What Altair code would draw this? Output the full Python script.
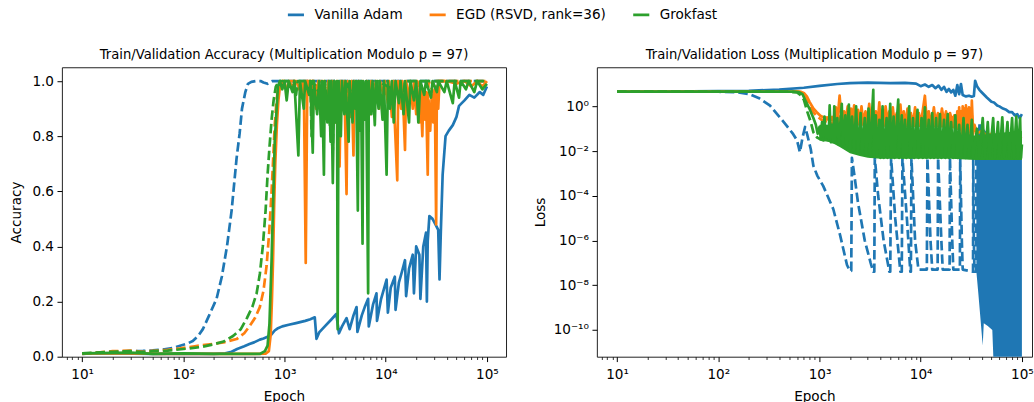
import altair as alt
import pandas as pd

# ---------------- data ----------------
METHODS = ["Vanilla Adam", "EGD (RSVD, rank=36)", "Grokfast"]
COLORS = ["#1f77b4", "#ff7f0e", "#2ca02c"]

# Accuracy panel: (epoch, accuracy)
acc_adam_train = [(10,0.010),(15,0.014),(20,0.017),(30,0.020),(40,0.021),(50,0.023),(65,0.027),(80,0.032),(93,0.040),(110,0.048),(124,0.057),(140,0.075),(156,0.100),(180,0.150),(213,0.210),(240,0.290),(270,0.400),(300,0.530),(336,0.720),(360,0.810),(380,0.900),(410,0.960),(435,0.990),(470,0.997),(520,1.0),(580,1.0),(620,0.995),(680,0.990),(760,1.0),(1000,1.0),(2000,1.0),(5000,1.0),(10000,1.0),(30000,1.0),(100000,1.0)]
acc_adam_val = [(10,0.012),(20,0.012),(50,0.010),(100,0.010),(200,0.010),(260,0.012),(300,0.018),(340,0.028),(400,0.038),(450,0.046),(500,0.052),(570,0.062),(620,0.066),(680,0.072),(740,0.080),(800,0.095),(850,0.102),(950,0.110),(1100,0.116),(1300,0.122),(1600,0.130),(1800,0.136),(1990,0.143),(2070,0.065),(2200,0.088),(2500,0.110),(2900,0.135),(3250,0.155),(3450,0.085),(3700,0.110),(4100,0.140),(4400,0.100),(4800,0.150),(5150,0.180),(5250,0.090),(5800,0.150),(6200,0.180),(6700,0.210),(6800,0.110),(7500,0.190),(8100,0.230),(8200,0.130),(9000,0.210),(10200,0.280),(10500,0.160),(11200,0.250),(12300,0.290),(12500,0.170),(13500,0.270),(14500,0.310),(15500,0.350),(15900,0.220),(17000,0.320),(18500,0.370),(19000,0.230),(20000,0.400),(21500,0.370),(22000,0.210),(23500,0.400),(25000,0.450),(25500,0.200),(26000,0.420),(27000,0.510),(29000,0.500),(31000,0.480),(33000,0.460),(34000,0.280),(35000,0.450),(36500,0.660),(39000,0.800),(42000,0.820),(46000,0.840),(50000,0.870),(53000,0.910),(60000,0.930),(67000,0.950),(75000,0.940),(85000,0.960),(92000,0.950),(100000,0.980)]
acc_egd_train = [(10,0.010),(15,0.016),(20,0.020),(30,0.022),(40,0.018),(50,0.021),(70,0.025),(93,0.030),(130,0.038),(183,0.045),(250,0.052),(336,0.064),(400,0.085),(450,0.110),(510,0.140),(570,0.180),(620,0.240),(665,0.330),(705,0.450),(745,0.600),(775,0.730),(800,0.840),(830,0.920),(860,0.970),(900,0.990),(950,1.0),(1300,1.0),(1400,0.97),(1500,1.0),(2000,1.0),(2200,0.92),(2300,1.0),(2800,0.95),(2900,1.0),(3600,0.88),(3700,1.0),(4500,0.93),(4600,1.0),(7000,0.96),(7200,1.0),(12000,0.93),(12400,1.0),(20000,0.95),(20500,1.0),(26000,0.90),(26500,1.0),(31000,0.94),(31500,1.0),(100000,1.0)]
acc_egd_val = [(10,0.012),(30,0.012),(60,0.010),(100,0.010),(300,0.010),(500,0.010),(650,0.011),(700,0.020),(730,0.080),(750,0.200),(770,0.350),(790,0.550),(810,0.700),(840,0.840),(870,0.930),(900,0.980),(950,1.0),(1050,0.97),(1100,1.0),(1200,0.98),(1300,1.0),(1450,0.96),(1550,1.0),(1620,0.34),(1680,1.0),(1800,0.95),(1900,1.0),(2050,0.90),(2150,1.0),(2300,0.92),(2400,1.0),(2600,0.88),(2700,1.0),(2900,0.93),(3000,1.0),(3200,0.85),(3300,1.0),(3500,0.69),(3600,1.0),(3800,0.90),(3900,1.0),(4100,0.59),(4200,1.0),(4500,0.87),(4600,1.0),(4800,0.73),(4900,1.0),(5300,0.90),(5400,1.0),(5800,0.85),(5900,1.0),(6300,0.93),(6500,1.0),(7000,0.88),(7200,1.0),(7800,0.94),(8000,1.0),(8600,0.90),(8800,1.0),(9500,0.95),(9800,1.0),(10500,0.92),(10800,1.0),(11500,0.87),(11800,1.0),(13000,0.64),(13300,1.0),(14200,0.90),(14600,1.0),(15500,0.75),(15900,1.0),(17000,0.93),(17500,1.0),(18500,0.90),(19000,1.0),(20000,0.88),(20500,0.98),(21500,0.85),(22000,0.97),(23000,0.80),(23500,0.95),(24500,0.86),(25000,0.96),(26000,0.66),(26500,0.93),(27500,0.82),(28500,0.95),(29500,0.85),(30500,0.97),(31500,0.48),(32000,0.98),(33000,0.90),(34000,1.0),(40000,1.0),(50000,0.99),(60000,1.0),(70000,0.98),(80000,1.0),(90000,0.98),(100000,1.0)]
acc_grok_train = [(10,0.012),(20,0.018),(30,0.020),(40,0.017),(50,0.020),(70,0.022),(100,0.028),(150,0.035),(200,0.045),(250,0.055),(310,0.075),(370,0.100),(425,0.140),(480,0.180),(530,0.230),(570,0.300),(610,0.400),(650,0.530),(680,0.660),(710,0.760),(745,0.860),(780,0.930),(820,0.980),(880,1.0),(1250,1.0),(1300,0.95),(1350,1.0),(1800,1.0),(1850,0.80),(1900,1.0),(2400,0.93),(2500,1.0),(3000,0.75),(3100,1.0),(4000,0.90),(4100,1.0),(5500,0.88),(5600,1.0),(8000,0.92),(8300,1.0),(15000,0.95),(15500,1.0),(100000,1.0)]
acc_grok_val = [(10,0.012),(30,0.015),(50,0.010),(100,0.012),(200,0.010),(400,0.010),(570,0.010),(640,0.020),(680,0.040),(710,0.120),(745,0.350),(800,0.780),(860,0.980),(900,1.0),(950,0.97),(1000,1.0),(1050,0.93),(1100,1.0),(1200,0.96),(1250,1.0),(1370,0.73),(1420,1.0),(1550,0.90),(1600,1.0),(1750,0.95),(1800,1.0),(1900,0.74),(1950,1.0),(2100,0.88),(2200,1.0),(2300,0.80),(2350,1.0),(2450,0.66),(2500,1.0),(2650,0.85),(2750,1.0),(2850,0.78),(2900,1.0),(3000,0.63),(3100,1.0),(3200,0.85),(3300,1.0),(3350,0.10),(3420,1.0),(3600,0.80),(3700,1.0),(3900,0.88),(4000,1.0),(4300,0.78),(4400,1.0),(4700,0.85),(4800,1.0),(5000,0.90),(5100,1.0),(5300,0.53),(5400,1.0),(5600,0.82),(5700,1.0),(5900,0.41),(6000,1.0),(6300,0.86),(6400,1.0),(6700,0.23),(6800,1.0),(7200,0.88),(7400,1.0),(7800,0.84),(8000,1.0),(8500,0.90),(8700,1.0),(9300,0.86),(9600,1.0),(10200,0.66),(10500,1.0),(11000,0.90),(11500,1.0),(12000,0.85),(12500,1.0),(13500,0.92),(14000,1.0),(15000,0.88),(15500,1.0),(17000,0.85),(17500,1.0),(19000,0.93),(20000,1.0),(21000,0.85),(22000,1.0),(24000,0.95),(25000,1.0),(28000,0.94),(29000,1.0),(32000,0.96),(33000,1.0),(38000,0.96),(40000,1.0),(46000,0.92),(48000,1.0),(53000,0.94),(55000,1.0),(62000,0.97),(66000,1.0),(75000,0.96),(80000,1.0),(90000,0.97),(100000,0.99)]

# Loss panel: (epoch, loss)
loss_adam_train = [(10,4.6),(50,4.6),(100,4.5),(150,4.3),(200,3.6),(250,2.4),(325,1.07),(400,0.35),(475,0.135),(550,0.057),(600,0.03),(640,0.009),(680,0.04),(720,0.12),(760,0.05),(820,0.012),(870,0.0022),(950,8e-4),(1090,2.7e-4),(1370,2.5e-5),(1600,1.7e-6),(1870,8e-8),(2000,4.4e-8),(2060,4.4e-8),(2090,5e-3),(2200,1e-3),(2400,5e-5),(2800,1e-6),(3200,1e-7),(3400,4e-8),(3480,4e-8),(3520,5e-3),(3800,1e-4),(4300,1e-6),(4900,4e-8),(5000,4e-8),(5100,5e-3),(5600,1e-5),(6300,4e-8),(6500,4e-8),(6600,5e-3),(7300,1e-5),(7900,4e-8),(8000,4e-8),(8100,5e-3),(8800,1e-6),(9500,5e-8),(11500,5e-8),(11650,5e-3),(12500,1e-6),(13000,5e-8),(14700,5e-8),(14850,5e-3),(16000,1e-6),(16500,5e-8),(19300,5e-8),(19450,5e-3),(20500,1e-6),(21000,5e-8),(24400,5e-8),(24550,5e-3),(25500,1e-6),(26000,5e-8),(32900,4e-8),(33050,5e-3),(33500,1e-6),(34000,4e-8),(35300,4e-8),(35500,5e-3)]
loss_adam_fill_ep = [35500, 37000, 39000, 41000, 42000, 46000, 51000, 53000, 60000, 80000, 100000]
loss_adam_fill_lo = [4e-8, 5e-9, 3e-10, 2e-11, 2e-10, 1.5e-10, 1e-10, 1e-12, 1e-12, 1e-12, 1e-12]
loss_adam_fill_hi = [5e-3, 0.16, 0.16, 0.16, 0.1, 0.06, 0.05, 0.04, 0.03, 0.02, 0.02]
loss_adam_val = [(10,4.6),(30,4.6),(100,4.8),(200,5.0),(400,5.6),(700,6.8),(1000,8.2),(1500,10.0),(2000,11.0),(3000,11.5),(5000,11.0),(7000,11.2),(9000,10.5),(10000,8.0),(11000,9.5),(12000,7.5),(13000,9.0),(14000,6.5),(15000,8.5),(16000,5.5),(17000,7.5),(18000,4.5),(19000,6.0),(20000,4.2),(21000,5.5),(22000,3.0),(23000,9.0),(24000,3.5),(25000,10.0),(26000,3.2),(28000,2.8),(30000,3.0),(32000,2.7),(33500,2.9),(34500,14.0),(36000,8.0),(38000,5.5),(40000,4.3),(45000,2.5),(50000,1.6),(53000,1.5),(57000,1.1),(60000,1.0),(65000,0.8),(70000,0.7),(75000,0.55),(80000,0.55),(85000,0.4),(90000,0.45),(95000,0.3),(100000,0.45)]
loss_egd_train = [(10,4.6),(300,4.6),(600,4.55),(680,4.2),(740,2.5),(800,1.1),(870,0.55),(950,0.35),(1050,0.25),(1200,0.2),(1500,0.15),(2000,0.1),(3000,0.08),(5000,0.06),(10000,0.05),(20000,0.05),(30000,0.05),(50000,0.04),(100000,0.03)]
loss_egd_band_ep = [1100, 1500, 2000, 3000, 5000, 10000, 20000, 25000, 33000]
loss_egd_band_lo = [0.25, 0.18, 0.15, 0.13, 0.12, 0.12, 0.11, 0.08, 0.06]
loss_egd_band_hi = [0.35, 0.40, 0.40, 0.40, 0.40, 0.40, 0.35, 0.50, 0.40]
loss_egd_val = [(10,4.6),(100,4.6),(300,4.6),(500,4.6),(650,4.5),(700,4.0),(750,2.8),(800,1.55),(870,0.8),(940,0.55),(1020,0.38),(1100,0.32),(1250,0.28),(1400,0.26),(1450,0.9),(1500,0.2),(1580,3.0),(1650,0.25),(1750,0.6),(1800,0.2),(1900,1.0),(1950,0.15),(2050,0.8),(2100,0.2),(2200,1.1),(2300,0.18),(2400,0.7),(2500,0.15),(2600,1.0),(2700,0.2),(2850,0.6),(2950,0.15),(3100,1.3),(3200,0.18),(3350,0.8),(3450,0.2),(3600,0.6),(3750,0.15),(3900,1.5),(4000,0.2),(4200,0.7),(4350,0.15),(4500,1.0),(4700,0.2),(4900,0.6),(5100,0.15),(5300,0.9),(5500,0.2),(5800,0.5),(6000,0.15),(6300,1.2),(6500,0.2),(6800,0.6),(7100,0.15),(7400,0.8),(7700,0.2),(8000,0.5),(8400,0.15),(8800,0.9),(9200,0.2),(9600,0.5),(10000,0.15),(10500,0.7),(11000,3.0),(11500,0.2),(12000,0.6),(12800,0.15),(13500,0.9),(14000,0.2),(14800,0.5),(15500,0.15),(16200,0.8),(17000,0.2),(17800,0.6),(18500,0.15),(19500,0.5),(20500,0.2),(21500,0.4),(22500,0.15),(23000,0.6),(23500,0.1),(24000,0.9),(24500,0.15),(25000,0.6),(25500,0.06),(26000,1.0),(26500,0.15),(27000,0.8),(27500,0.06),(28000,1.1),(28500,0.2),(29000,0.7),(29500,0.05),(30000,0.9),(30500,0.15),(31000,0.5),(31500,0.06),(32000,1.8),(33000,0.06),(34000,0.15),(36000,0.06),(40000,0.08),(45000,0.05),(50000,0.06),(60000,0.045),(70000,0.05),(80000,0.04),(90000,0.04),(100000,0.035)]
loss_grok_train = [(10,4.6),(300,4.6),(500,4.5),(600,4.2),(660,3.0),(700,2.0),(760,0.55),(820,0.2),(870,0.07),(950,0.04),(1010,0.035),(1100,0.03),(1200,0.045),(1300,0.025),(1500,0.03),(1800,0.02),(2200,0.015),(3000,0.01),(5000,0.008),(10000,0.007),(20000,0.007),(50000,0.006),(100000,0.006)]
loss_grok_band_ep = [1000, 1300, 1600, 2000, 2500, 3000, 4000, 6000, 10000, 20000, 35000, 50000, 70000, 100000]
loss_grok_band_lo = [0.03, 0.025, 0.015, 0.008, 0.006, 0.005, 0.0045, 0.0045, 0.0045, 0.0045, 0.004, 0.004, 0.004, 0.004]
loss_grok_band_hi = [0.15, 0.15, 0.12, 0.10, 0.08, 0.08, 0.07, 0.06, 0.06, 0.05, 0.05, 0.06, 0.07, 0.08]
loss_grok_val = [(10,4.6),(300,4.6),(550,4.6),(620,4.4),(680,3.5),(740,1.5),(800,0.75),(870,0.3),(920,0.15),(960,0.06),(1000,0.12),(1030,0.04),(1060,0.2),(1090,0.05),(1120,0.35),(1150,0.04),(1200,0.1),(1230,0.03),(1260,1.1),(1290,0.04),(1330,0.15),(1370,0.025),(1400,1.0),(1430,0.03),(1500,0.3),(1550,0.02),(1660,1.3),(1700,0.02),(1800,0.4),(1850,0.015),(1950,1.2),(2000,0.01),(2100,0.35),(2200,0.01),(2300,1.0),(2400,0.008),(2550,0.5),(2650,0.008),(2800,0.3),(2900,0.007),(3050,0.8),(3150,0.006),(3400,5.5),(3450,0.006),(3600,0.4),(3700,0.006),(3900,0.25),(4000,0.005),(4200,1.0),(4300,0.005),(4600,0.3),(4700,0.005),(5000,1.3),(5100,0.005),(5400,0.35),(5500,0.005),(6000,2.0),(6100,0.005),(6500,0.4),(6700,0.005),(7000,0.25),(7200,0.005),(7700,1.0),(7900,0.005),(8400,0.3),(8600,0.005),(9300,0.7),(9500,0.005),(10200,0.3),(10500,0.005),(11000,0.9),(11400,0.005),(12000,0.25),(12500,0.005),(13000,0.5),(13500,0.005),(14200,0.3),(14800,0.005),(15500,0.45),(16000,0.005),(17000,0.25),(17500,0.005),(18500,0.45),(19000,0.005),(20000,0.2),(21000,0.005),(22000,0.4),(23000,0.005),(24000,0.15),(25000,0.005),(26500,0.3),(27500,0.005),(29000,0.15),(30000,0.005),(32000,0.25),(33000,0.005),(36000,0.1),(38000,0.005),(41000,0.3),(43000,0.005),(46000,0.2),(48000,0.005),(52000,0.3),(54000,0.005),(58000,0.2),(60000,0.005),(64000,0.32),(67000,0.005),(72000,0.2),(75000,0.005),(80000,0.3),(83000,0.005),(88000,0.35),(91000,0.005),(96000,0.3),(98000,0.005),(100000,0.02)]

x_tick_values = [7, 8, 9] + [m * 10 ** k for k in range(1, 5) for m in range(1, 10)] + [100000]
x_major = {10: "10¹", 100: "10²", 1000: "10³", 10000: "10⁴", 100000: "10⁵"}
acc_ticks = [0.0, 0.2, 0.4, 0.6, 0.8, 1.0]
loss_major = {0: "10⁰", -2: "10⁻²", -4: "10⁻⁴", -6: "10⁻⁶", -8: "10⁻⁸", -10: "10⁻¹⁰"}

# ---------------- helpers ----------------
FONT = "DejaVu Sans"
LW = 2.7
DASH = [9.5, 4.0]
PX_PER_DECADE = 101.4

def frame(pairs, method):
    return pd.DataFrame({"ep": [p[0] for p in pairs], "v": [p[1] for p in pairs], "method": method})

def band(ep, lo, hi):
    return pd.DataFrame({"ep": ep, "lo": lo, "hi": hi})

x_label_expr = " : ".join(f"datum.value == {k} ? '{v}'" for k, v in x_major.items()) + " : ''"
x_major_test = "indexof([" + ",".join(str(k) for k in x_major) + "], datum.value) >= 0"
loss_label_expr = " : ".join(f"round(log(datum.value)/LN10) == {k} ? '{v}'" for k, v in loss_major.items()) + " : ''"

W_LEFT, W_RIGHT, H = 445, 436, 290
x_scale_l = alt.Scale(type="log", domain=[10 ** 0.8, 10 ** (0.8 + W_LEFT / PX_PER_DECADE)], nice=False)
x_scale_r = alt.Scale(type="log", domain=[10 ** 0.8, 10 ** (0.8 + W_RIGHT / PX_PER_DECADE)], nice=False)
x_axis = alt.Axis(title="Epoch", values=x_tick_values, labelExpr=x_label_expr,
                  tickSize={"condition": {"test": x_major_test, "value": 4.9}, "value": 2.8},
                  tickWidth={"condition": {"test": x_major_test, "value": 1.0}, "value": 0.8},
                  labelPadding=6, titlePadding=8, labelFlush=False)
acc_scale = alt.Scale(domain=[0, 1.05], nice=False, zero=False)
acc_axis = alt.Axis(title="Accuracy", values=acc_ticks, format=".1f", tickSize=4.9, labelPadding=3.5, titlePadding=8)
loss_scale = alt.Scale(type="log", domain=[10 ** -11.2, 10 ** 1.75], nice=False)
loss_axis = alt.Axis(title="Loss", values=[10.0 ** k for k in loss_major], labelExpr=loss_label_expr,
                     tickSize=4.9, labelPadding=3.5, titlePadding=6)
color_scale = alt.Scale(domain=METHODS, range=COLORS)
legend = alt.Legend(orient="none", legendX=225, legendY=-62, direction="horizontal", title=None,
                    symbolType="stroke", symbolStrokeWidth=2.7, symbolSize=260, labelFontSize=13.6,
                    labelFont=FONT, columnPadding=21, labelOffset=9, symbolDash=[1, 0], gridAlign="none")


def line(df, idx, dashed, xs, ys, ya):
    if dashed:
        mark = alt.Chart(df).mark_line(strokeWidth=LW, clip=True, strokeDash=DASH, strokeJoin="round", color=COLORS[idx])
        color = alt.value(COLORS[idx])
    else:
        mark = alt.Chart(df).mark_line(strokeWidth=LW, clip=True, strokeJoin="round")
        color = alt.Color("method:N", scale=color_scale, legend=legend)
    return mark.encode(x=alt.X("ep:Q", scale=xs, axis=x_axis),
                       y=alt.Y("v:Q", scale=ys, axis=ya), color=color)


def area(df, idx, xs, ys, ya):
    return alt.Chart(df).mark_area(clip=True, color=COLORS[idx], opacity=1).encode(
        x=alt.X("ep:Q", scale=xs, axis=x_axis),
        y=alt.Y("lo:Q", scale=ys, axis=ya), y2="hi:Q")


def title(text):
    return alt.TitleParams(text=text, fontSize=13.2, font=FONT, fontWeight="normal", color="black", offset=5)


L = (x_scale_l, acc_scale, acc_axis)
R = (x_scale_r, loss_scale, loss_axis)

acc_chart = alt.layer(
    line(frame(acc_adam_train, METHODS[0]), 0, True, *L),
    line(frame(acc_adam_val, METHODS[0]), 0, False, *L),
    line(frame(acc_egd_train, METHODS[1]), 1, True, *L),
    line(frame(acc_egd_val, METHODS[1]), 1, False, *L),
    line(frame(acc_grok_train, METHODS[2]), 2, True, *L),
    line(frame(acc_grok_val, METHODS[2]), 2, False, *L),
).properties(width=W_LEFT, height=H, title=title("Train/Validation Accuracy (Multiplication Modulo p = 97)"))

loss_chart = alt.layer(
    line(frame(loss_adam_train, METHODS[0]), 0, True, *R),
    area(band(loss_adam_fill_ep, loss_adam_fill_lo, loss_adam_fill_hi), 0, *R),
    line(frame(loss_adam_val, METHODS[0]), 0, False, *R),
    line(frame(loss_egd_train, METHODS[1]), 1, True, *R),
    area(band(loss_egd_band_ep, loss_egd_band_lo, loss_egd_band_hi), 1, *R),
    line(frame(loss_egd_val, METHODS[1]), 1, False, *R),
    line(frame(loss_grok_train, METHODS[2]), 2, True, *R),
    area(band(loss_grok_band_ep, loss_grok_band_lo, loss_grok_band_hi), 2, *R),
    line(frame(loss_grok_val, METHODS[2]), 2, False, *R),
).properties(width=W_RIGHT, height=H, title=title("Train/Validation Loss (Multiplication Modulo p = 97)"))

chart = alt.hconcat(acc_chart, loss_chart, spacing=25).resolve_scale(
    color="shared", x="independent"
).properties(
    padding={"left": 9, "top": 5, "right": 0, "bottom": 0}, background="white"
).configure_view(stroke="#222222", strokeWidth=1).configure_axis(
    labelFont=FONT, titleFont=FONT, labelFontSize=13.6, titleFontSize=13.6, titleFontWeight="normal",
    labelColor="black", titleColor="black", tickColor="black", domain=False, grid=False
)

chart.save("out.html", embed_options={"renderer": "svg", "actions": False})
